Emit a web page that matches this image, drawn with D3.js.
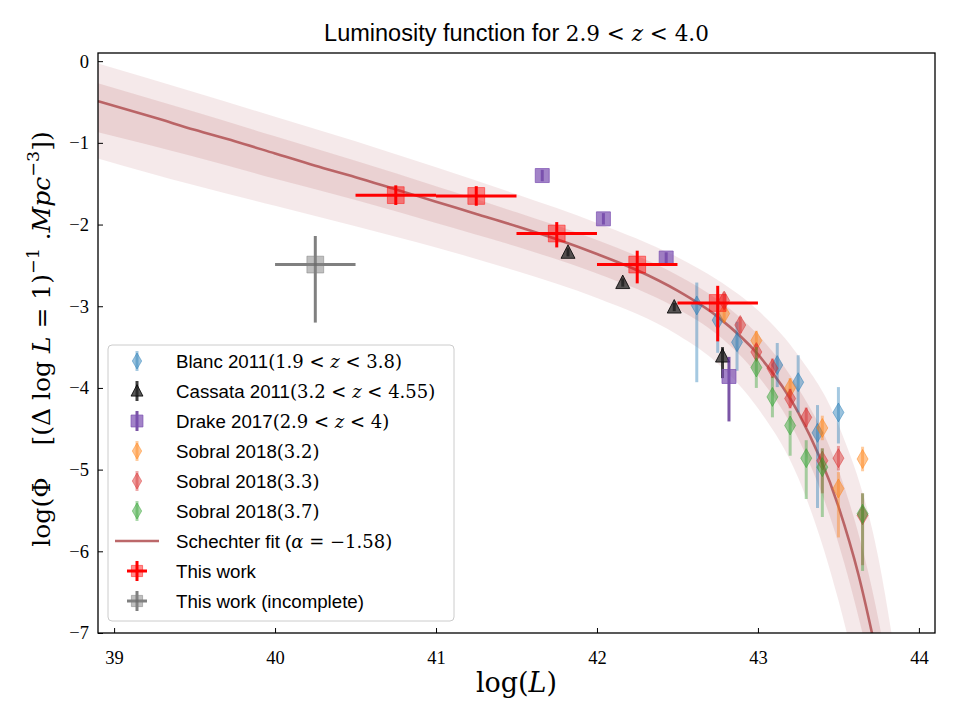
<!DOCTYPE html>
<html>
<head>
<meta charset="utf-8">
<script src="https://cdn.jsdelivr.net/npm/d3@7"></script>
<style>
body { margin: 0; background: #fff; }
</style>
</head>
<body>
<div id="chart"></div>
<script>
// ---- data ----
var thisX = [40.75, 41.25, 41.75, 42.25, 42.75];
var thisY = [-1.64, -1.65, -2.11, -2.49, -2.96];
var thisUp = [0.12, 0.12, 0.14, 0.17, 0.21];
var thisDn = [0.12, 0.12, 0.17, 0.23, 0.47];
var thisXerr = 0.25;

var incX = [40.25];
var incY = [-2.49];
var incUp = [0.35];
var incDn = [0.71];

var blancX = [42.62, 42.75, 42.87, 43.12, 43.25, 43.37, 43.5];
var blancY = [-2.99, -3.17, -3.44, -3.72, -3.93, -4.55, -4.30];
var blancUp = [0.28, 0.31, 0.25, 0.27, 0.33, 0.34, 0.31];
var blancDn = [0.94, 0.40, 0.35, 0.27, 0.37, 0.92, 0.38];

var cassX = [41.82, 42.16, 42.48, 42.78];
var cassY = [-2.34, -2.71, -3.01, -3.61];
var cassUp = [0.05, 0.05, 0.05, 0.11];
var cassDn = [0.05, 0.05, 0.05, 0.27];

var drakeX = [41.66, 42.04, 42.43, 42.82];
var drakeY = [-1.40, -1.93, -2.41, -3.86];
var drakeUp = [0.07, 0.07, 0.07, 0.24];
var drakeDn = [0.07, 0.07, 0.07, 0.55];

var sob32X = [42.79, 42.99, 43.2, 43.4, 43.5, 43.65];
var sob32Y = [-3.09, -3.42, -4.0, -4.49, -5.23, -4.87];
var sob32Up = [0.1, 0.12, 0.12, 0.15, 0.2, 0.15];
var sob32Dn = [0.1, 0.12, 0.12, 0.15, 0.6, 0.15];

var sob33X = [42.79, 42.89, 42.99, 43.09, 43.2, 43.3, 43.4, 43.5, 43.65];
var sob33Y = [-2.93, -3.23, -3.56, -3.76, -4.13, -4.36, -4.89, -4.86, -5.56];
var sob33Up = [0.1, 0.1, 0.1, 0.12, 0.12, 0.12, 0.15, 0.15, 0.27];
var sob33Dn = [0.1, 0.1, 0.1, 0.12, 0.12, 0.12, 0.4, 0.15, 0.61];

var sob37X = [42.99, 43.09, 43.2, 43.3, 43.4, 43.65];
var sob37Y = [-3.75, -4.11, -4.46, -4.86, -4.97, -5.54];
var sob37Up = [0.25, 0.25, 0.18, 0.22, 0.23, 0.25];
var sob37Dn = [0.25, 0.25, 0.37, 0.5, 0.61, 0.7];

// Schechter fit curve and its 1 / 2 sigma bands
var fitX = [38.9, 39.25, 39.5, 39.75, 40.0, 40.25, 40.5, 40.75, 41.0, 41.25, 41.5, 41.75, 42.0, 42.25, 42.5, 42.75, 43.0, 43.25, 43.5, 43.625, 43.75];
var fitY = [-0.49, -0.69, -0.84, -0.98, -1.13, -1.28, -1.42, -1.57, -1.72, -1.87, -2.02, -2.18, -2.36, -2.56, -2.81, -3.13, -3.59, -4.30, -5.45, -6.29, -7.38];

var bandX = [38.9, 39.5, 40.0, 40.5, 41.0, 41.5, 42.0, 42.5, 42.75, 43.0, 43.25, 43.5, 43.75, 43.9];
var outerHi = [-0.03, -0.38, -0.68, -0.98, -1.30, -1.63, -1.98, -2.40, -2.68, -3.05, -3.60, -4.45, -6.1, -7.9];
var innerHi = [-0.27, -0.62, -0.92, -1.22, -1.53, -1.85, -2.19, -2.62, -2.92, -3.35, -4.00, -5.0, -6.85, -8.6];
var innerLo = [-0.87, -1.17, -1.44, -1.70, -1.98, -2.27, -2.60, -3.03, -3.35, -3.85, -4.62, -5.9, -7.9, -9.5];
var outerLo = [-1.19, -1.52, -1.77, -2.02, -2.28, -2.57, -2.90, -3.35, -3.70, -4.25, -5.10, -6.6, -8.8, -10.5];

var xTicks = [39, 40, 41, 42, 43, 44];
var yTicks = [0, -1, -2, -3, -4, -5, -6, -7];

// ---- layout ----
var svgWidth = 960;
var svgHeight = 720;
var margin = { top: 53, right: 25, bottom: 87, left: 98 };
var chartWidth = svgWidth - margin.left - margin.right;
var chartHeight = svgHeight - margin.top - margin.bottom;

var serif = "'DejaVu Serif', 'Liberation Serif', serif";
var tickSerif = "'Liberation Serif', 'DejaVu Serif', serif";
var sans = "'Liberation Sans', Arial, sans-serif";

var svg = d3.select("#chart").append("svg")
    .attr("width", svgWidth)
    .attr("height", svgHeight);

var chartGroup = svg.append("g")
    .attr("transform", `translate(${margin.left}, ${margin.top})`);

var x = d3.scaleLinear().domain([38.9, 44.1]).range([0, chartWidth]);
var y = d3.scaleLinear().domain([-7, 0.1]).range([chartHeight, 0]);

svg.append("defs").append("clipPath").attr("id", "clip")
    .append("rect").attr("width", chartWidth).attr("height", chartHeight);

var plot = chartGroup.append("g").attr("clip-path", "url(#clip)");

// bands
var fitColor = "#b5585a";
function band(hi, lo) {
    return d3.area()
        .x((d, i) => x(bandX[i]))
        .y0((d, i) => y(lo[i]))
        .y1((d, i) => y(hi[i]))
        .curve(d3.curveMonotoneX)(bandX);
}
plot.append("path").attr("d", band(outerHi, outerLo))
    .attr("fill", fitColor).attr("fill-opacity", 0.13);
plot.append("path").attr("d", band(innerHi, innerLo))
    .attr("fill", fitColor).attr("fill-opacity", 0.16);

plot.append("path")
    .datum(fitX)
    .attr("d", d3.line().x(d => x(d)).y((d, i) => y(fitY[i])).curve(d3.curveMonotoneX))
    .attr("fill", "none")
    .attr("stroke", fitColor)
    .attr("stroke-width", 2.6)
    .attr("stroke-opacity", 0.9);

// markers
function diamond(s) { s = s || 1; return `M0,${-9.5 * s}L${5.5 * s},0L0,${9.5 * s}L${-5.5 * s},0Z`; }
function triangle(s) { s = s || 1; return `M0,${-7.5 * s}L${7 * s},${6 * s}L${-7 * s},${6 * s}Z`; }
function square(s) { s = s || 1; var h = 7 * s; return `M${-h},${-h}H${h}V${h}H${-h}Z`; }

function series(xs, ys, up, dn, opts) {
    var g = plot.append("g");
    xs.forEach(function(xv, i) {
        var cx = x(xv), cy = y(ys[i]);
        g.append("line")
            .attr("x1", cx).attr("x2", cx)
            .attr("y1", y(ys[i] + up[i])).attr("y2", y(ys[i] - dn[i]))
            .attr("stroke", opts.ecolor).attr("stroke-opacity", opts.eop)
            .attr("stroke-width", opts.ew);
        if (opts.xerr) {
            g.append("line")
                .attr("x1", x(xv - opts.xerr)).attr("x2", x(xv + opts.xerr))
                .attr("y1", cy).attr("y2", cy)
                .attr("stroke", opts.ecolor).attr("stroke-opacity", opts.eop)
                .attr("stroke-width", opts.ew);
        }
        g.append("path")
            .attr("d", opts.shape())
            .attr("transform", `translate(${cx},${cy})`)
            .attr("fill", opts.color).attr("fill-opacity", opts.op)
            .attr("stroke", opts.stroke || opts.color)
            .attr("stroke-opacity", opts.sop || opts.op)
            .attr("stroke-width", opts.sw || 1);
    });
}

var styles = {
    blanc: { color: "#1f77b4", op: 0.45, ecolor: "#1f77b4", eop: 0.4, ew: 3, shape: diamond },
    cass: { color: "#222", op: 0.75, stroke: "#000", sop: 0.8, ecolor: "#000", eop: 0.75, ew: 3, shape: triangle },
    drake: { color: "#7b4fb0", op: 0.7, ecolor: "#5a2a90", eop: 0.8, ew: 3, shape: square },
    sob32: { color: "#ff7f0e", op: 0.45, ecolor: "#ff7f0e", eop: 0.4, ew: 3, shape: diamond },
    sob33: { color: "#d62728", op: 0.45, ecolor: "#d62728", eop: 0.4, ew: 3, shape: diamond },
    sob37: { color: "#2ca02c", op: 0.45, ecolor: "#2ca02c", eop: 0.4, ew: 3, shape: diamond },
    thisw: { color: "#ff0000", op: 0.45, ecolor: "#ff0000", eop: 1, ew: 3, shape: function() { return square(1.2); }, xerr: thisXerr },
    inc: { color: "#808080", op: 0.5, ecolor: "#555", eop: 0.75, ew: 3, shape: function() { return square(1.2); }, xerr: 0.25 }
};

series(blancX, blancY, blancUp, blancDn, styles.blanc);
series(cassX, cassY, cassUp, cassDn, styles.cass);
series(drakeX, drakeY, drakeUp, drakeDn, styles.drake);
series(sob32X, sob32Y, sob32Up, sob32Dn, styles.sob32);
series(sob33X, sob33Y, sob33Up, sob33Dn, styles.sob33);
series(sob37X, sob37Y, sob37Up, sob37Dn, styles.sob37);
series(thisX, thisY, thisUp, thisDn, styles.thisw);
series(incX, incY, incUp, incDn, styles.inc);

// axes (ticks inward)
var bottomAxis = d3.axisBottom(x).tickValues(xTicks).tickSize(-5).tickPadding(18).tickFormat(d3.format("d"));
var leftAxis = d3.axisLeft(y).tickValues(yTicks).tickSize(-5).tickPadding(9)
    .tickFormat(d => d < 0 ? "\u2212" + Math.abs(d) : d);

var xAxis = chartGroup.append("g")
    .attr("transform", `translate(0, ${chartHeight})`)
    .call(bottomAxis);
var yAxis = chartGroup.append("g").call(leftAxis);
[xAxis, yAxis].forEach(function(a) {
    a.select(".domain").remove();
    a.selectAll("line").attr("stroke", "#000").attr("stroke-width", 1);
    a.selectAll("text").attr("font-family", tickSerif).attr("font-size", 18.5).attr("fill", "#000");
});

chartGroup.append("rect")
    .attr("width", chartWidth).attr("height", chartHeight)
    .attr("fill", "none").attr("stroke", "#000").attr("stroke-width", 1.3);

// rich text helper: segments of [text, kind]
function rich(sel, parts, size, mathSize) {
    mathSize = mathSize || size;
    sel.attr("xml:space", "preserve");
    parts.forEach(function(p) {
        var t = sel.append("tspan").text(p[0]);
        var k = p[1];
        if (k === "s") t.attr("font-family", sans).attr("font-size", size);
        else t.attr("font-family", serif).attr("font-size", mathSize);
        if (k === "i") t.attr("font-style", "italic");
        if (k === "sup") t.attr("font-size", mathSize * 0.7).attr("dy", -mathSize * 0.45);
        if (k === "down") t.attr("dy", mathSize * 0.45);
    });
}

// title
var title = svg.append("text")
    .attr("x", margin.left + chartWidth / 2).attr("y", 41)
    .attr("text-anchor", "middle").attr("fill", "#000");
rich(title, [["Luminosity function for ", "s"], ["2.9 < ", "r"], ["z", "i"], [" < 4.0", "r"]], 23.5, 21.5);

// x label
var xl = svg.append("text")
    .attr("x", margin.left + chartWidth / 2).attr("y", 692)
    .attr("text-anchor", "middle").attr("fill", "#000");
rich(xl, [["log(", "r"], ["L", "i"], [")", "r"]], 27);

// y label
var yl = svg.append("text")
    .attr("transform", `translate(50, 339) rotate(-90)`)
    .attr("text-anchor", "middle").attr("fill", "#000");
rich(yl, [["log(\u03a6    [(\u0394 log ", "r"], ["L", "i"], [" = 1)", "r"], ["\u22121", "sup"],
    [" .", "down"], ["Mpc", "i"], ["\u22123", "sup"], ["])", "down"]], 25);

// legend
var legendItems = [
    { key: "blanc", label: [["Blanc 2011", "s"], ["(1.9 < ", "r"], ["z", "i"], [" < 3.8)", "r"]] },
    { key: "cass", label: [["Cassata 2011", "s"], ["(3.2 < ", "r"], ["z", "i"], [" < 4.55)", "r"]] },
    { key: "drake", label: [["Drake 2017", "s"], ["(2.9 < ", "r"], ["z", "i"], [" < 4)", "r"]] },
    { key: "sob32", label: [["Sobral 2018", "s"], ["(3.2)", "r"]] },
    { key: "sob33", label: [["Sobral 2018", "s"], ["(3.3)", "r"]] },
    { key: "sob37", label: [["Sobral 2018", "s"], ["(3.7)", "r"]] },
    { key: "fit", label: [["Schechter fit (", "s"], ["\u03b1", "i"], [" = \u22121.58)", "r"]] },
    { key: "thisw", label: [["This work", "s"]] },
    { key: "inc", label: [["This work (incomplete)", "s"]] }
];

var legend = svg.append("g");
legend.append("rect")
    .attr("x", 108).attr("y", 345).attr("width", 346).attr("height", 276)
    .attr("rx", 4).attr("fill", "#fff").attr("fill-opacity", 0.85)
    .attr("stroke", "#ccc").attr("stroke-width", 1);

legendItems.forEach(function(item, i) {
    var ly = 361 + i * 30;
    var mx = 137;
    var row = legend.append("g");
    if (item.key === "fit") {
        row.append("line").attr("x1", mx - 22).attr("x2", mx + 22).attr("y1", ly).attr("y2", ly)
            .attr("stroke", fitColor).attr("stroke-width", 2.6).attr("stroke-opacity", 0.9);
    } else {
        var s = styles[item.key];
        row.append("line").attr("x1", mx).attr("x2", mx).attr("y1", ly - 10).attr("y2", ly + 10)
            .attr("stroke", s.ecolor).attr("stroke-opacity", s.eop).attr("stroke-width", s.ew);
        if (s.xerr) {
            row.append("line").attr("x1", mx - 10).attr("x2", mx + 10).attr("y1", ly).attr("y2", ly)
                .attr("stroke", s.ecolor).attr("stroke-opacity", s.eop).attr("stroke-width", s.ew);
        }
        var isSq = item.key === "thisw" || item.key === "inc";
        row.append("path")
            .attr("d", isSq ? square(0.8) : s.shape(0.85))
            .attr("transform", `translate(${mx},${ly})`)
            .attr("fill", s.color).attr("fill-opacity", s.op)
            .attr("stroke", s.stroke || s.color).attr("stroke-opacity", s.sop || s.op);
    }
    var t = row.append("text").attr("x", 176).attr("y", ly + 7).attr("fill", "#000");
    rich(t, item.label, 18.7, 18);
});
</script>
</body>
</html>
